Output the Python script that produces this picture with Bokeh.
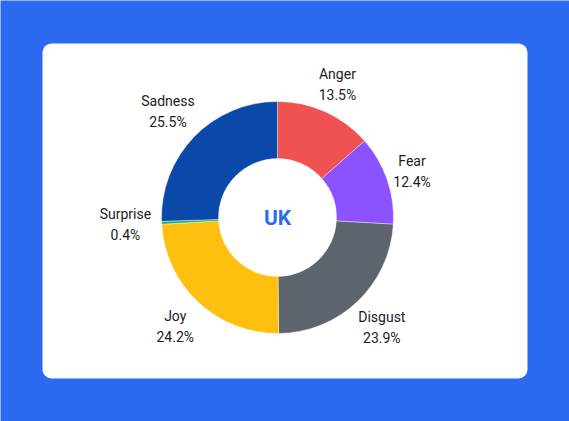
import math
from bokeh.plotting import figure
from bokeh.models import Range1d, BoxAnnotation, ColumnDataSource
from bokeh.core.properties import value
from bokeh.embed import file_html
from bokeh.resources import INLINE

# ---- data ----
categories = ["Anger", "Fear", "Disgust", "Joy", "Surprise", "Sadness"]
percents = [13.5, 12.4, 23.9, 24.2, 0.4, 25.5]
colors = ["#F05252", "#8C52FF", "#5E646C", "#FFBF0F", "#1DB964", "#0A48AA"]
center_title = "UK"

BG = "#2B6AF0"
W, H = 569, 421

p = figure(width=W, height=H, output_backend="svg", toolbar_location=None,
           x_range=Range1d(0, W), y_range=Range1d(0, H), min_border=0,
           background_fill_color=BG, border_fill_color=BG)
p.axis.visible = False
p.grid.visible = False
p.outline_line_color = None

def Y(ypx):
    return H - ypx

# white card
card = BoxAnnotation(left=42, right=527, top=Y(43), bottom=Y(378),
                     fill_color="white", fill_alpha=1, line_color=None,
                     border_radius=9, level="underlay")
p.add_layout(card)

cx, cy = 277, Y(217)
r_out, r_in = 116, 59
label_gap_r = 123      # labels' nearest box edge sits at this radius
char_w, half_h = 7.3, 20.5

total = sum(percents)
pct_txt = [f"{v:.1f}%" for v in percents]
starts, ends, lx, ly = [], [], [], []
cum = 0.0
for v, nm, pt in zip(percents, categories, pct_txt):
    c0 = cum / total
    cum += v
    c1 = cum / total
    starts.append(math.pi / 2 - 2 * math.pi * c1)
    ends.append(math.pi / 2 - 2 * math.pi * c0)
    mid = 2 * math.pi * (c0 + c1) / 2
    s, c = math.sin(mid), math.cos(mid)
    half_w = 0.5 * char_w * max(len(nm), len(pt))
    ext = min(half_w / max(abs(s), 1e-6), half_h / max(abs(c), 1e-6))
    rr = label_gap_r + ext
    lx.append(cx + rr * s)
    ly.append(cy + rr * c)

src = ColumnDataSource(dict(
    start=starts, end=ends, color=colors, name=categories, pct=pct_txt,
    lx=lx, ly_name=[y + 10.5 for y in ly], ly_pct=[y - 10.5 for y in ly],
))

p.annular_wedge(x=cx, y=cy, inner_radius=r_in, outer_radius=r_out,
                start_angle="start", end_angle="end", color="color",
                line_color="white", line_width=0.4, source=src)

p.text(x="lx", y="ly_name", text="name", source=src, text_align="center",
       text_baseline="middle", text_font=value("Roboto"),
       text_font_size="14px", text_color="#1C1C1C")
p.text(x="lx", y="ly_pct", text="pct", source=src, text_align="center",
       text_baseline="middle", text_font=value("Roboto"),
       text_font_size="14px", text_color="#1C1C1C")

p.text(x=[cx], y=[cy], text=[center_title], text_align="center",
       text_baseline="middle", text_font=value("Roboto"),
       text_font_size="21px", text_font_style="bold", text_color="#2E6BEF")

html = file_html(p, INLINE)
html = html.replace("<body>", f'<body style="background:{BG};margin:0;">', 1)
open("out.html", "w").write(html)
